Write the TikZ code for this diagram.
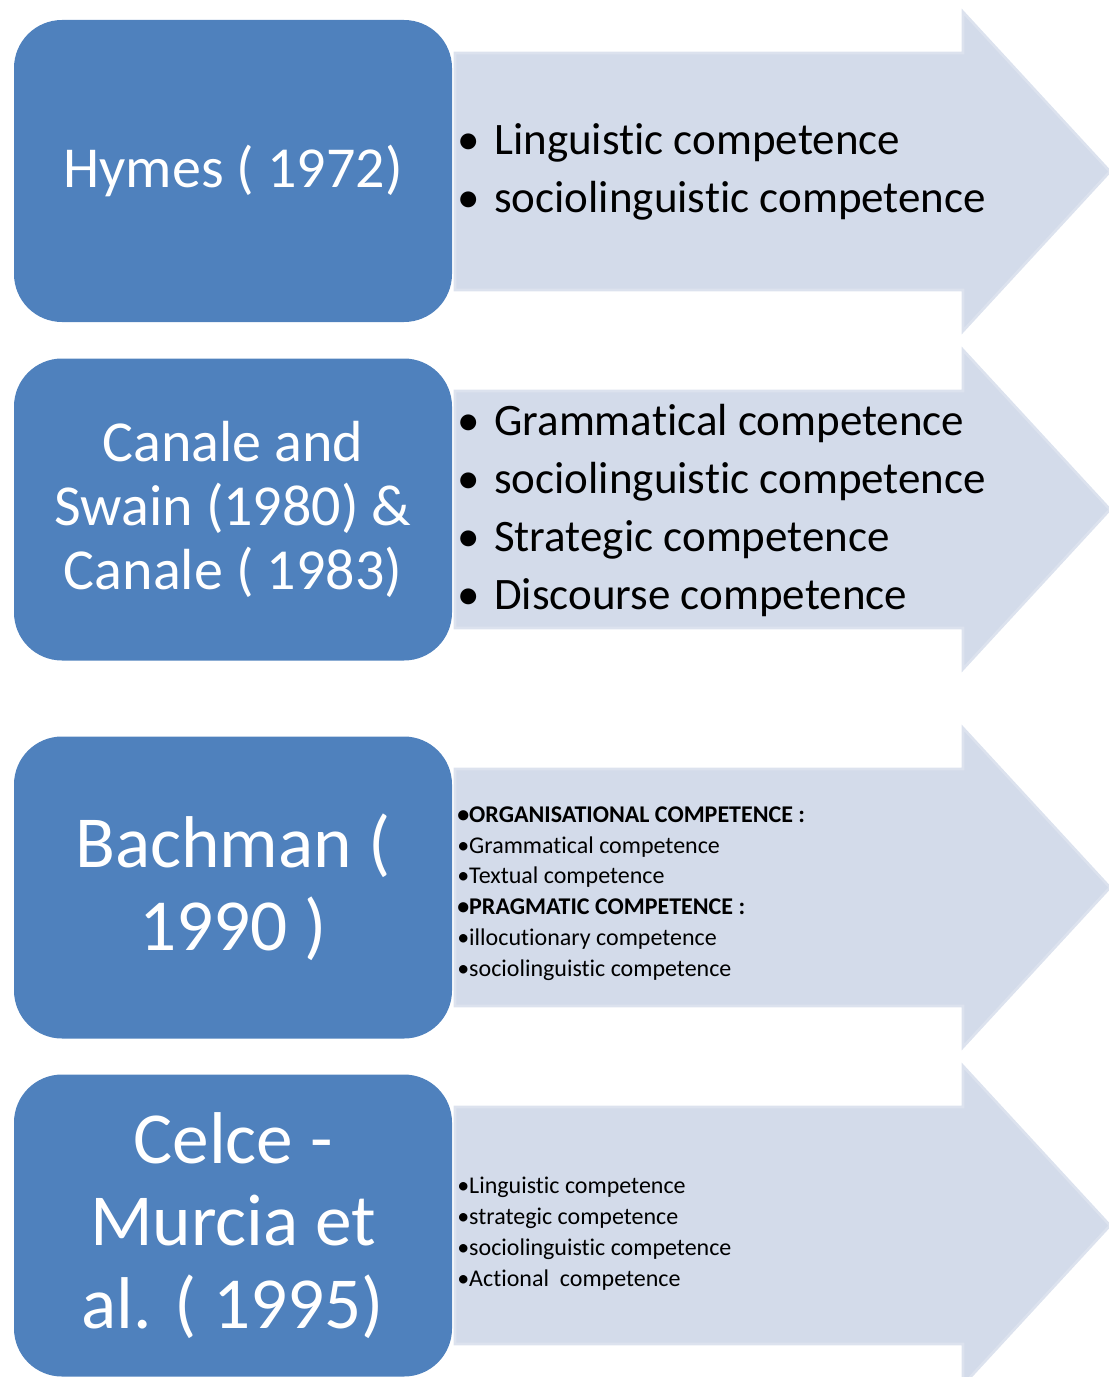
\documentclass[tikz,border=0pt]{standalone}
\usepackage{fontspec}
\setmainfont{Carlito}[Ligatures=CommonOff]
\definecolor{boxblue}{HTML}{4F81BD}
\definecolor{arrowfill}{HTML}{D3DBEA}
\definecolor{arrowedge}{HTML}{DCE2EE}
% bullet with a fixed indent for the large lists
\newcommand\listdot{\makebox[27.75pt][l]{•}}
\begin{document}
\begin{tikzpicture}[x=0.75pt,y=-0.75pt,
  yearbox/.style={fill=boxblue, text=white, rounded corners=36pt,
    minimum width=328.5pt, minimum height=226.5pt, inner sep=0pt, align=center},
  yearmid/.style={yearbox, font=\fontsize{43.5pt}{48pt}\selectfont},
  yearbig/.style={yearbox, font=\fontsize{55pt}{62pt}\selectfont},
  bandarrow/.style={fill=arrowfill, draw=arrowedge, line width=2pt, line join=miter},
  biglist/.style={anchor=west, align=left, inner sep=0pt,
    font=\fontsize{33.75pt}{43.5pt}\selectfont},
  smalllist/.style={anchor=west, align=left, inner sep=0pt,
    font=\fontsize{18pt}{23.1pt}\selectfont},
]
\useasboundingbox (0,0) rectangle (1108,1377);

% broad arrows, one per row (head top y given)
\foreach \t in {12,350,728,1066} {
  \filldraw[bandarrow] (455,{\t+41}) -- (963,{\t+41}) -- (963,\t)
    -- (1110,{\t+159.5}) -- (963,{\t+319}) -- (963,{\t+278})
    -- (455,{\t+278}) -- cycle;
}

% author boxes
\node[yearmid] (hymes) at (233,171) {Hymes ( 1972)};
\node[yearmid] (canale) at (233,509.5) {Canale and\\Swain (1980) \&\\Canale ( 1983)};
\node[yearbig] (bachman) at (233,887.5) {Bachman (\\1990 )};
\node[yearbig] (celce) at (233,1225.5) {Celce -\\Murcia et\\al. ( 1995)};

% competence lists
\node[biglist] (hymeslist) at (457,172)
  {\listdot Linguistic competence\\
   \listdot sociolinguistic competence};
\node[biglist] (canalelist) at (457,510)
  {\listdot Grammatical competence\\
   \listdot sociolinguistic competence\\
   \listdot Strategic competence\\
   \listdot Discourse competence};
\node[smalllist] (bachmanlist) at (457,893.5)
  {\textbf{•ORGANISATIONAL COMPETENCE :}\\
   •Grammatical competence\\
   •Textual competence\\
   \textbf{•PRAGMATIC COMPETENCE :}\\
   •illocutionary competence\\
   •sociolinguistic competence};
\node[smalllist] (celcelist) at (457,1233.5)
  {•Linguistic competence\\
   •strategic competence\\
   •sociolinguistic competence\\
   •Actional~ competence};
\end{tikzpicture}
\end{document}
